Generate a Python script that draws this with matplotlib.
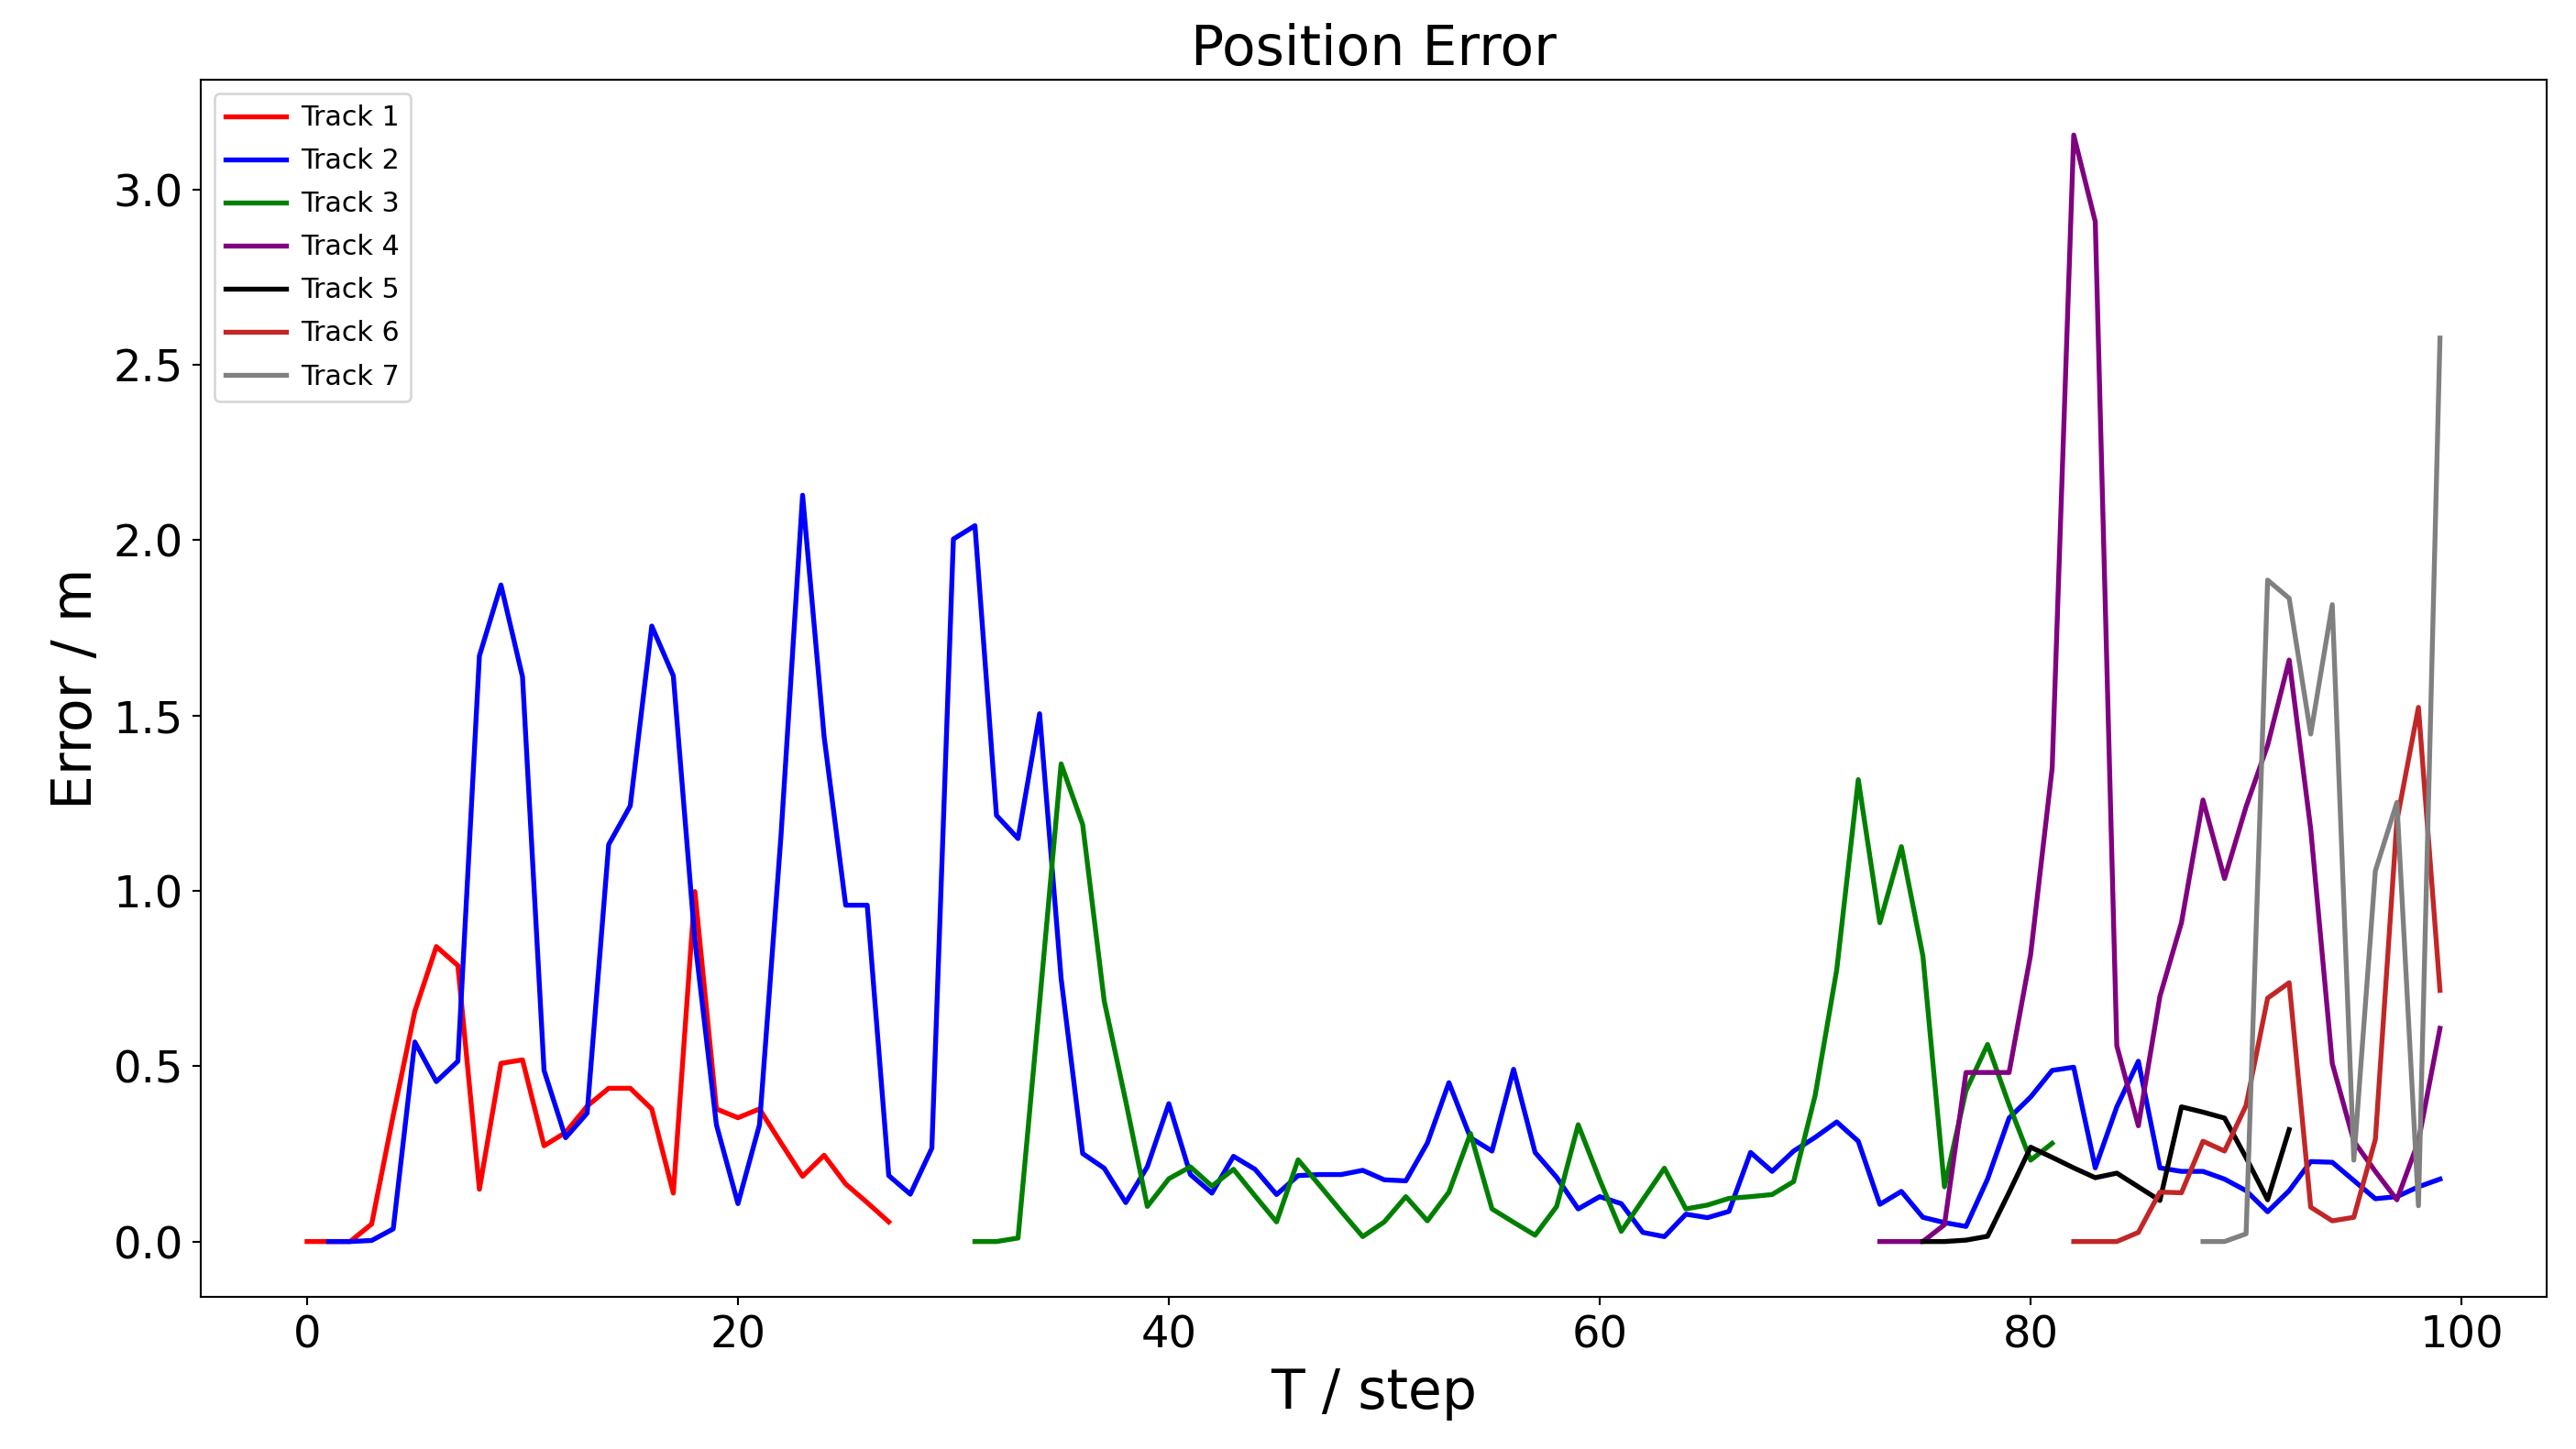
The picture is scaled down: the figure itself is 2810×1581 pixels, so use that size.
import numpy as np
import matplotlib
matplotlib.use("Agg")
import matplotlib.pyplot as plt

# error values read per time step, each track starts at its own step
track1_start = 0
track1 = [0.0, 0.0, 0.0, 0.05, 0.36, 0.656, 0.841, 0.787, 0.149, 0.508,
          0.518, 0.273, 0.311, 0.386, 0.437, 0.437, 0.378, 0.138, 0.998, 0.378,
          0.353, 0.378, 0.281, 0.186, 0.246, 0.164, 0.111, 0.056]

track2_start = 1
track2 = [0.0, 0.0, 0.003, 0.036, 0.569, 0.456, 0.514, 1.670, 1.872, 1.610,
          0.488, 0.296, 0.366, 1.132, 1.242, 1.755, 1.613, 0.86, 0.333, 0.108,
          0.333, 1.159, 2.128, 1.439, 0.959, 0.959, 0.188, 0.135, 0.266, 2.003,
          2.041, 1.215, 1.149, 1.505, 0.75, 0.251, 0.209, 0.111, 0.213, 0.393,
          0.191, 0.138, 0.243, 0.206, 0.134, 0.188, 0.191, 0.191, 0.203, 0.176,
          0.173, 0.281, 0.453, 0.296, 0.258, 0.491, 0.254, 0.183, 0.093, 0.128,
          0.108, 0.026, 0.014, 0.078, 0.068, 0.086, 0.254, 0.200, 0.258, 0.297,
          0.341, 0.286, 0.106, 0.143, 0.069, 0.054, 0.043, 0.178, 0.352, 0.412,
          0.488, 0.497, 0.21, 0.384, 0.514, 0.21, 0.20, 0.20, 0.178, 0.145,
          0.085, 0.145, 0.228, 0.226, 0.174, 0.122, 0.128, 0.156, 0.178]

track3_start = 31
track3 = [0.0, 0.0, 0.01, 0.68, 1.362, 1.189, 0.686, 0.40, 0.10, 0.179,
          0.213, 0.158, 0.206, 0.13, 0.056, 0.233, 0.16, 0.086, 0.014, 0.056,
          0.128, 0.059, 0.141, 0.308, 0.093, 0.055, 0.018, 0.10, 0.333, 0.176,
          0.029, 0.119, 0.209, 0.093, 0.104, 0.123, 0.128, 0.134, 0.171, 0.417,
          0.775, 1.317, 0.909, 1.126, 0.814, 0.156, 0.43, 0.562, 0.39, 0.232,
          0.28]

track4_start = 73
track4 = [0.0, 0.0, 0.0, 0.048, 0.482, 0.482, 0.482, 0.818, 1.35, 3.155,
          2.908, 0.558, 0.33, 0.699, 0.909, 1.259, 1.035, 1.24, 1.415, 1.658,
          1.176, 0.508, 0.286, 0.2, 0.119, 0.286, 0.608]

track5_start = 75
track5 = [0.0, 0.0, 0.004, 0.015, 0.14, 0.269, 0.24, 0.21, 0.182, 0.195,
          0.156, 0.117, 0.384, 0.369, 0.352, 0.239, 0.119, 0.319]

track6_start = 82
track6 = [0.0, 0.0, 0.0, 0.026, 0.141, 0.139, 0.286, 0.258, 0.388, 0.694,
          0.738, 0.098, 0.059, 0.069, 0.291, 1.2, 1.523, 0.716]

track7_start = 88
track7 = [0.0, 0.0, 0.022, 1.886, 1.834, 1.447, 1.816, 0.232, 1.057, 1.252,
          0.102, 2.576]

labels = ["Track 1", "Track 2", "Track 3", "Track 4", "Track 5", "Track 6", "Track 7"]
colors = ["red", "blue", "green", "purple", "black", "#C22626", "gray"]

tracks = [(track1_start, track1), (track2_start, track2), (track3_start, track3),
          (track4_start, track4), (track5_start, track5), (track6_start, track6),
          (track7_start, track7)]

dpi = 192
fig = plt.figure(figsize=(2810 / dpi, 1581 / dpi), dpi=dpi)
ax = fig.add_subplot(111)
fig.subplots_adjust(left=0.0778, right=0.9886, bottom=0.105, top=0.945)

for (start, vals), lab, col in zip(tracks, labels, colors):
    steps = np.arange(start, start + len(vals))
    ax.plot(steps, vals, color=col, linewidth=2, label=lab)

ax.set_title("Position Error", fontsize=22.5)
ax.set_xlabel("T / step", fontsize=22.5)
ax.set_ylabel("Error / m", fontsize=22.5)
ax.tick_params(labelsize=18)
ax.legend(loc="upper left", fontsize=11.3, labelspacing=0.6,
          handlelength=2.2, handletextpad=0.55)

fig.savefig("out.png", dpi=dpi)
